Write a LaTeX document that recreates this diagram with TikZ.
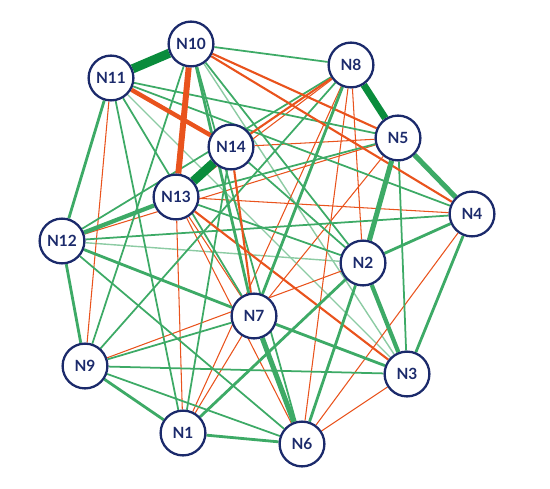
\documentclass[tikz,border=0pt]{standalone}
\usepackage{fontspec}
\setmainfont{Lato}
\usepackage{tikz}
\usetikzlibrary{backgrounds}

\definecolor{navy}{HTML}{1B2A6B}
\definecolor{dkgreen}{HTML}{0A8C3C}
\definecolor{mdgreen}{HTML}{3DAA66}
\definecolor{ltgreen}{HTML}{8CCBA3}
\definecolor{orred}{HTML}{E9531D}

\tikzset{
  nd/.style={circle,draw=navy,line width=1.3pt,fill=white,minimum size=25.5pt,inner sep=0pt,
    text=navy,font=\fontsize{8.8}{10}\selectfont\bfseries},
  gk/.style={draw=dkgreen,line width=5.2pt},
  gt/.style={draw=mdgreen,line width=2.9pt},
  gm/.style={draw=mdgreen,line width=1.6pt},
  gs/.style={draw=mdgreen,line width=1pt},
  gl/.style={draw=ltgreen,line width=0.8pt},
  rk/.style={draw=orred,line width=3.4pt},
  rm/.style={draw=orred,line width=1.2pt},
  rs/.style={draw=orred,line width=0.6pt}
}

\begin{document}
\begin{tikzpicture}[x=0.02cm,y=-0.02cm]
			\useasboundingbox (0,0) rectangle (550,489);
			% Place nodes
			\node[nd] (N10) at (191,44) {N10};
			\node[nd] (N11) at (111,78) {N11};
			\node[nd] (N8) at (351,65) {N8};
			\node[nd] (N5) at (398,138) {N5};
			\node[nd] (N14) at (231,147) {N14};
			\node[nd] (N13) at (176,197) {N13};
			\node[nd] (N4) at (472,214) {N4};
			\node[nd] (N12) at (62,241) {N12};
			\node[nd] (N2) at (363,263) {N2};
			\node[nd] (N7) at (254,316) {N7};
			\node[nd] (N9) at (85,366) {N9};
			\node[nd] (N3) at (407,374) {N3};
			\node[nd] (N1) at (183,433) {N1};
			\node[nd] (N6) at (302,444) {N6};
			\begin{pgfonlayer}{background}
			% Thin light green links
			\draw[gl] (N11) -- (N3);
			\draw[gl] (N12) -- (N2);
			\draw[gl] (N10) -- (N3);
			% Thin red links
			\draw[rs] (N11) -- (N9);
			\draw[rs] (N13) -- (N4);
			\draw[rs] (N14) -- (N5);
			\draw[rs] (N8) -- (N2);
			\draw[rs] (N8) -- (N13);
			\draw[rs] (N13) -- (N1);
			\draw[rs] (N7) -- (N1);
			\draw[rs] (N13) -- (N6);
			\draw[rs] (N4) -- (N6);
			\draw[rs] (N3) -- (N6);
			\draw[rs] (N5) -- (N7);
			\draw[rs] (N9) -- (N2);
			\draw[rs] (N12) -- (N5);
			\draw[rs] (N13) -- (N7);
			\draw[rs] (N8) -- (N1);
			\draw[rs] (N8) -- (N6);
			% Thin green links
			\draw[gs] (N10) -- (N8);
			\draw[gs] (N11) -- (N5);
			\draw[gs] (N11) -- (N4);
			\draw[gs] (N12) -- (N4);
			\draw[gs] (N13) -- (N2);
			\draw[gs] (N11) -- (N1);
			\draw[gs] (N11) -- (N7);
			\draw[gs] (N5) -- (N3);
			\draw[gs] (N9) -- (N3);
			\draw[gs] (N9) -- (N6);
			\draw[gs] (N9) -- (N7);
			\draw[gs] (N1) -- (N14);
			\draw[gs] (N10) -- (N9);
			\draw[gs] (N14) -- (N2);
			\draw[gs] (N8) -- (N12);
			\draw[gs] (N8) -- (N9);
			\draw[gs] (N13) -- (N5);
			\draw[gs] (N10) -- (N2);
			\draw[gs] (N12) -- (N6);
			\draw[gs] (N10) -- (N6);
			% Medium red links
			\draw[rm] (N10) -- (N5);
			\draw[rm] (N14) -- (N7);
			\draw[rm] (N10) -- (N4);
			\draw[rm] (N13) -- (N3);
			\draw[rm] (N14) -- (N8);
			% Medium green links
			\draw[gm] (N4) -- (N3);
			\draw[gm] (N12) -- (N9);
			\draw[gm] (N9) -- (N1);
			\draw[gm] (N1) -- (N6);
			\draw[gm] (N11) -- (N12);
			\draw[gm] (N12) -- (N7);
			\draw[gm] (N7) -- (N3);
			\draw[gm] (N8) -- (N7);
			\draw[gm] (N1) -- (N2);
			\draw[gm] (N2) -- (N6);
			\draw[gm] (N10) -- (N7);
			\draw[gm] (N2) -- (N4);
			% Heavy links
			\draw[gt] (N5) -- (N4);
			\draw[gt] (N5) -- (N2);
			\draw[gt] (N7) -- (N6);
			\draw[gt,line width=2.4pt] (N2) -- (N3);
			\draw[gt,line width=2.4pt] (N12) -- (N13);
			\draw[rk] (N10) -- (N13);
			\draw[rk,line width=2.5pt] (N11) -- (N14);
			\draw[gk] (N10) -- (N11);
			\draw[gk] (N13) -- (N14);
			\draw[gk,line width=4pt] (N8) -- (N5);
			\end{pgfonlayer}
		\end{tikzpicture}
\end{document}
